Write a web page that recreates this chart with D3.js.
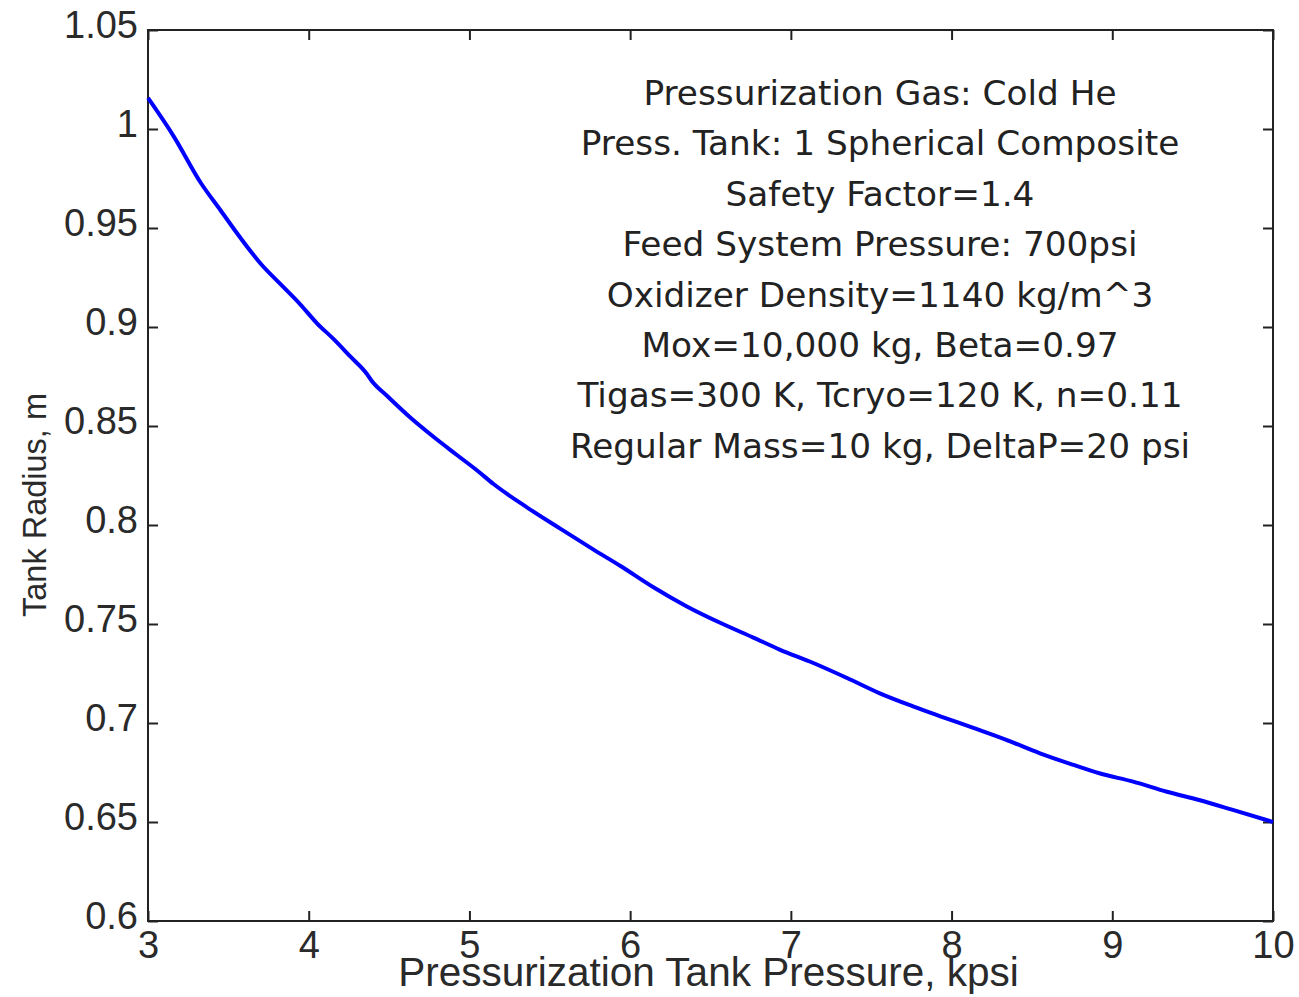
<!DOCTYPE html>
<html>
<head>
<meta charset="utf-8">
<script src="https://cdn.jsdelivr.net/npm/d3@7"></script>
<style>
  body { margin: 0; background: #fff; }
  svg text { fill: #222; }
</style>
</head>
<body>
<div id="chart"></div>
<script>
// pressurization tank pressure (kpsi) vs tank radius (m)
const pressure = [3.0, 3.16, 3.33, 3.45, 3.57, 3.70, 3.82, 3.95, 4.05, 4.16, 4.26, 4.36, 4.39, 4.49,
  4.63, 4.78, 4.92, 5.05, 5.15, 5.36, 5.57, 5.77, 5.94, 6.15, 6.35, 6.56, 6.77, 6.93, 7.14, 7.35,
  7.55, 7.76, 7.93, 8.14, 8.34, 8.55, 8.76, 8.92, 9.13, 9.34, 9.54, 9.75, 10.0];
const radius = [1.0157, 0.9963, 0.9726, 0.9591, 0.9456, 0.9321, 0.9220, 0.9112, 0.9020, 0.8935,
  0.8850, 0.8765, 0.8730, 0.8650, 0.8544, 0.8443, 0.8355, 0.8274, 0.8207, 0.8088, 0.7979, 0.7877,
  0.7793, 0.7683, 0.7590, 0.7506, 0.7430, 0.7371, 0.7303, 0.7227, 0.7151, 0.7084, 0.7034, 0.6974,
  0.6915, 0.6847, 0.6788, 0.6746, 0.6704, 0.6653, 0.6611, 0.6561, 0.6500];

const xTicks = [3, 4, 5, 6, 7, 8, 9, 10];
const yTicks = [0.6, 0.65, 0.7, 0.75, 0.8, 0.85, 0.9, 0.95, 1, 1.05];

const notes = [
  "Pressurization Gas: Cold He",
  "Press. Tank: 1 Spherical Composite",
  "Safety Factor=1.4",
  "Feed System Pressure: 700psi",
  "Oxidizer Density=1140 kg/m^3",
  "Mox=10,000 kg, Beta=0.97",
  "Tigas=300 K, Tcryo=120 K, n=0.11",
  "Regular Mass=10 kg, DeltaP=20 psi"
];

const width = 1299, height = 997;
const margins = { top: 30, right: 26, bottom: 76, left: 148 };

const svg = d3.select("#chart").append("svg")
  .attr("width", width)
  .attr("height", height);

const xScale = d3.scaleLinear()
  .domain([3, 10])
  .range([margins.left, width - margins.right]);

const yScale = d3.scaleLinear()
  .domain([0.6, 1.05])
  .range([height - margins.bottom, margins.top]);

const fmt = d => String(+d.toFixed(2));

// ticks point inward on all four sides
const axisB = svg.append("g")
  .attr("transform", `translate(0,${yScale(0.6)})`)
  .call(d3.axisBottom(xScale).tickValues(xTicks).tickSize(-10).tickPadding(10).tickFormat(fmt));
const axisT = svg.append("g")
  .attr("transform", `translate(0,${yScale(1.05)})`)
  .call(d3.axisTop(xScale).tickValues(xTicks).tickSize(-10).tickFormat(""));
const axisL = svg.append("g")
  .attr("transform", `translate(${xScale(3)},0)`)
  .call(d3.axisLeft(yScale).tickValues(yTicks).tickSize(-10).tickPadding(10).tickFormat(fmt));
const axisR = svg.append("g")
  .attr("transform", `translate(${xScale(10)},0)`)
  .call(d3.axisRight(yScale).tickValues(yTicks).tickSize(-10).tickFormat(""));

[axisB, axisT, axisL, axisR].forEach(g => {
  g.select(".domain").remove();
  g.selectAll(".tick line").attr("stroke", "#222").attr("stroke-width", 2);
  g.selectAll(".tick text")
    .attr("font-family", "'Liberation Sans', Arial, sans-serif")
    .attr("font-size", 38)
    .style("fill", "#2a2a2a");
});
axisL.selectAll(".tick text").attr("dy", "0.19em");

// frame
svg.append("rect")
  .attr("x", xScale(3))
  .attr("y", yScale(1.05))
  .attr("width", xScale(10) - xScale(3))
  .attr("height", yScale(0.6) - yScale(1.05))
  .attr("fill", "none")
  .attr("stroke", "#222")
  .attr("stroke-width", 2);

const line = d3.line()
  .x(d => xScale(d[0]))
  .y(d => yScale(d[1]))
  .curve(d3.curveMonotoneX);

svg.append("path")
  .datum(d3.zip(pressure, radius))
  .attr("d", line)
  .attr("fill", "none")
  .attr("stroke", "#0000ff")
  .attr("stroke-width", 4)
  .attr("stroke-linejoin", "round");

// axis titles
svg.append("text")
  .attr("x", (xScale(3) + xScale(10)) / 2 - 2)
  .attr("y", 986)
  .attr("text-anchor", "middle")
  .attr("font-family", "'Liberation Sans', Arial, sans-serif")
  .attr("font-size", 40.5)
  .style("fill", "#2a2a2a")
  .text("Pressurization Tank Pressure, kpsi");

svg.append("text")
  .attr("transform", "translate(46,505) rotate(-90)")
  .attr("text-anchor", "middle")
  .attr("font-family", "'Liberation Sans', Arial, sans-serif")
  .attr("font-size", 32.5)
  .style("fill", "#2a2a2a")
  .text("Tank Radius, m");

// parameter notes
svg.append("g")
  .selectAll("text")
  .data(notes)
  .join("text")
  .attr("x", 880)
  .attr("y", (d, i) => 105 + i * 50.4)
  .attr("text-anchor", "middle")
  .attr("font-family", "'DejaVu Sans', sans-serif")
  .attr("font-size", 34.3)
  .text(d => d);
</script>
</body>
</html>
